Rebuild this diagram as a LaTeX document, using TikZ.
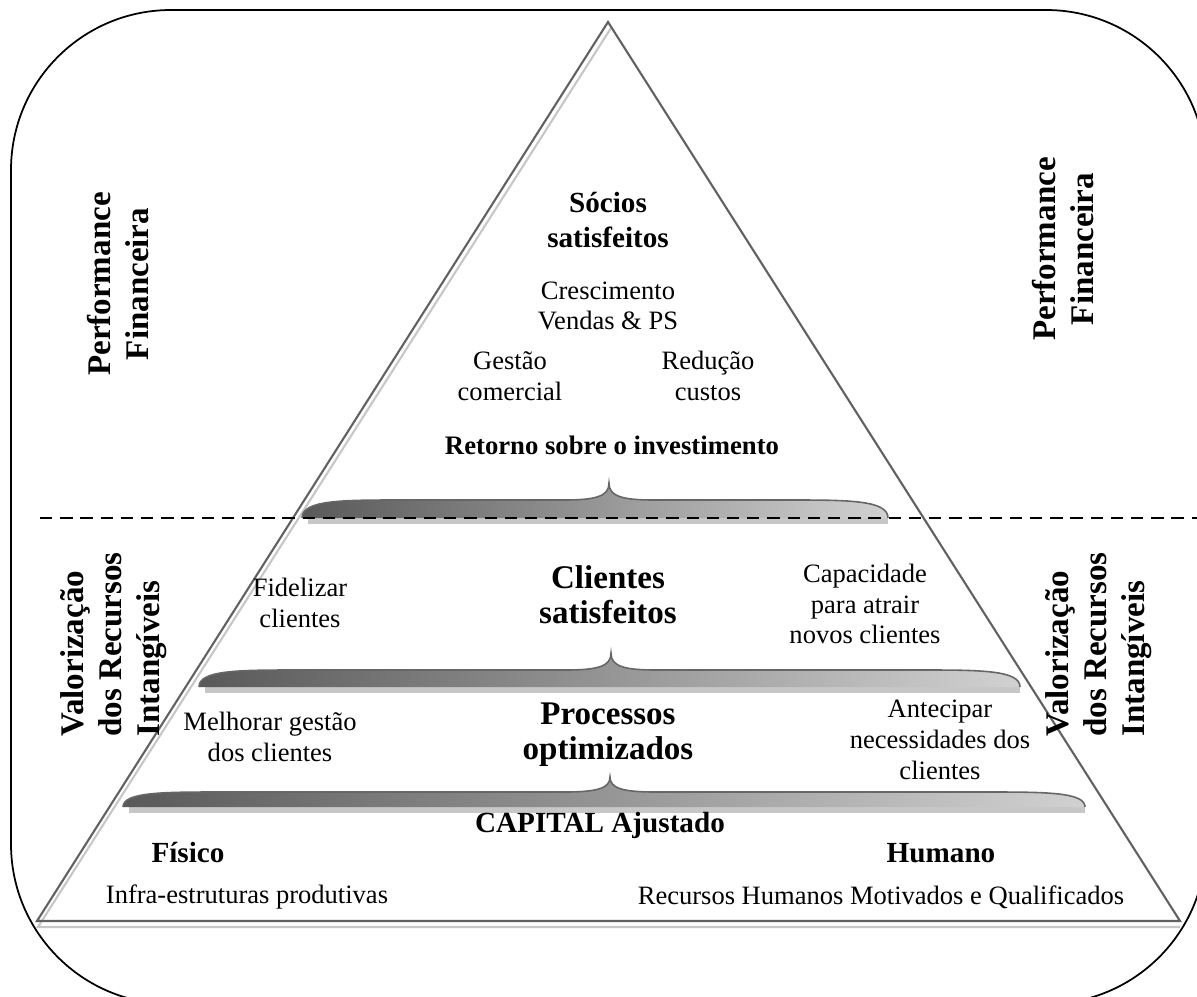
\documentclass[tikz,border=0pt]{standalone}
\usepackage{fontspec}
\setmainfont{Liberation Serif}
\begin{document}
\begin{tikzpicture}[x=0.02cm, y=-0.02cm]
    \tikzstyle{body}=[align=center, inner sep=0pt, font=\fontsize{15.1}{17.5}\selectfont]
    \tikzstyle{bbody}=[align=center, inner sep=0pt, font=\fontsize{15.2}{17.5}\selectfont\bfseries]
    \tikzstyle{head}=[align=center, inner sep=0pt, font=\fontsize{16.6}{20}\selectfont\bfseries]
    \tikzstyle{big}=[align=center, inner sep=0pt, font=\fontsize{18.8}{20}\selectfont\bfseries]
    \tikzstyle{side}=[rotate=90, inner sep=0pt, font=\fontsize{18.8}{21.6}\selectfont\bfseries]
    \tikzstyle{tline}=[draw=black!62, line width=1.2pt]
    \tikzstyle{tshadow}=[draw=black!22, line width=1.2pt]
    \tikzstyle{bracefill}=[left color=black!65, middle color=black!30, right color=black!18]
    \tikzstyle{braceedge}=[draw=black!60, line width=0.9pt]
    \tikzstyle{braceshadow}=[fill=black!22]

    \useasboundingbox (0,0) rectangle (1197,997);
    \clip (0,0) rectangle (1197,997);

    % frame
    \draw[line width=1pt, rounded corners=3.2cm] (11,10) rectangle (1206,1004);

    % pyramid
    \coordinate (top) at (608,22);
    \coordinate (bl) at (37,921);
    \coordinate (br) at (1180,921);
    \draw[tshadow] (611,28) -- (38,927) -- (1180,927);
    \draw[tline] (bl) -- (top) -- (br) -- cycle;

    % braces
    \foreach \l/\r/\m/\yt/\ya/\yb in {302/888/609/483/500/518, 199/1020/611/653/670/687, 123/1085/610/777/792/807} {
        \fill[braceshadow] (\l+6,\yb) rectangle (\r,\yb+6);
        \shade[bracefill] (\l,\yb) .. controls (\l,\ya) and (\l+40,\ya) .. (\l+100,\ya)
            -- (\m-45,\ya) .. controls (\m-12,\ya) and (\m,\ya-4) .. (\m,\yt)
            .. controls (\m,\ya-4) and (\m+12,\ya) .. (\m+45,\ya)
            -- (\r-100,\ya) .. controls (\r-40,\ya) and (\r,\ya) .. (\r,\yb) -- cycle;
        \draw[braceedge] (\l,\yb) .. controls (\l,\ya) and (\l+40,\ya) .. (\l+100,\ya)
            -- (\m-45,\ya) .. controls (\m-12,\ya) and (\m,\ya-4) .. (\m,\yt)
            .. controls (\m,\ya-4) and (\m+12,\ya) .. (\m+45,\ya)
            -- (\r-100,\ya) .. controls (\r-40,\ya) and (\r,\ya) .. (\r,\yb);
    }

    % split line
    \coordinate (dashL) at (40,518);
    \coordinate (dashR) at (1197,518);
    \draw[line width=1.6pt, dash pattern=on 7pt off 4.5pt] (dashL) -- (dashR);

    % side labels
    \node[side, align=center] (perfL) at (118,284) {Performance\\Financeira};
    \node[side, align=center] (perfR) at (1063,249) {Performance\\Financeira};
    \node[side, align=left, anchor=west] (valL) at (114,737) {Valorização\\dos Recursos\\Intangíveis};
    \node[side, align=left, anchor=west] (valR) at (1099,737) {Valorização\\dos Recursos\\Intangíveis};

    % top level
    \node[head] (socios) at (608,220) {Sócios\\satisfeitos};
    \node[body] (cresc) at (608,306) {Crescimento\\Vendas \& PS};
    \node[body] (gestao) at (510,376) {Gestão\\comercial};
    \node[body] (reducao) at (708,376) {Redução\\custos};
    \node[bbody] (retorno) at (612,445) {Retorno sobre o investimento};

    % clients
    \node[body] (fidel) at (300,603) {Fidelizar\\clientes};
    \node[big] (clientes) at (608,595) {Clientes\\satisfeitos};
    \node[body] (capac) at (865,604) {Capacidade\\para atrair\\novos clientes};

    % processes
    \node[body] (melhor) at (270,737) {Melhorar gestão\\dos clientes};
    \node[big] (process) at (608,735) {Processos\\optimizados};
    \node[body] (antecip) at (940,740) {Antecipar\\necessidades dos\\clientes};

    % capital
    \node[head] (capital) at (600,825) {CAPITAL Ajustado};
    \node[head] (fisico) at (188,853) {Físico};
    \node[head] (humano) at (941,853) {Humano};
    \node[body] (infra) at (247,897) {Infra-estruturas produtivas};
    \node[body] (recursos) at (881,897) {Recursos Humanos Motivados e Qualificados};
\end{tikzpicture}
\end{document}
